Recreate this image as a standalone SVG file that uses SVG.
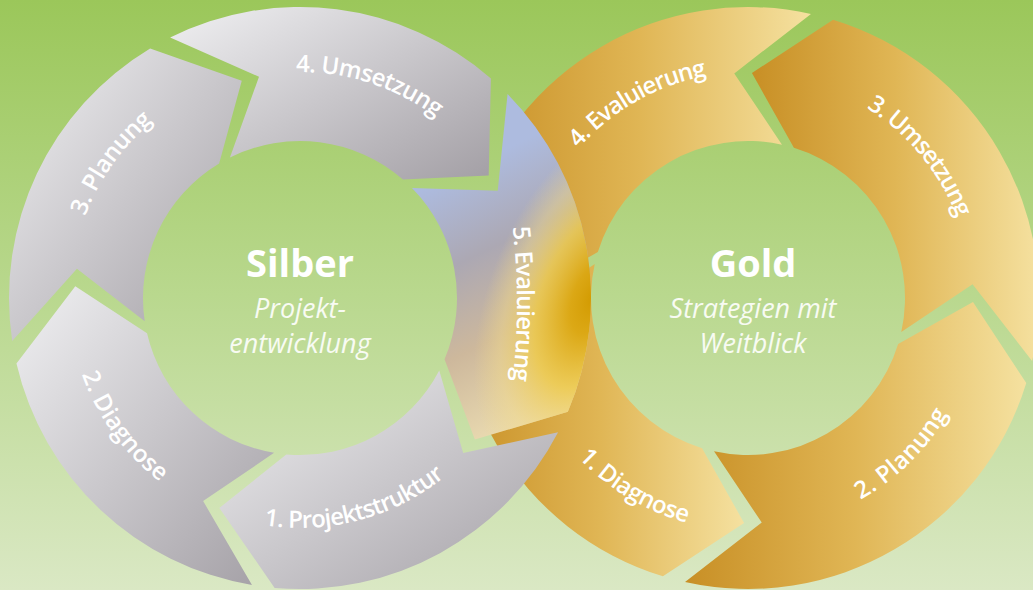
<svg xmlns="http://www.w3.org/2000/svg" width="1033" height="590" viewBox="0 0 1033 590">
<defs>
<linearGradient id="bg" x1="0" y1="0" x2="0" y2="1">
<stop offset="0" stop-color="#9bc75a"/>
<stop offset="0.5" stop-color="#b9d88e"/>
<stop offset="1" stop-color="#dae8c4"/>
</linearGradient>
<linearGradient id="silver" x1="0" y1="0" x2="1" y2="1">
<stop offset="0" stop-color="#f0f0f2"/>
<stop offset="1" stop-color="#a39fa5"/>
</linearGradient>
<linearGradient id="gold" x1="0" y1="0" x2="1" y2="0">
<stop offset="0" stop-color="#c88f25"/>
<stop offset="0.5" stop-color="#e0b655"/>
<stop offset="1" stop-color="#f5e1a0"/>
</linearGradient>
<linearGradient id="s5base" gradientUnits="userSpaceOnUse" x1="420" y1="190" x2="540" y2="440">
<stop offset="0" stop-color="#adbbdf"/>
<stop offset="0.3" stop-color="#aca8b3"/>
<stop offset="0.6" stop-color="#cdb89c"/>
<stop offset="1" stop-color="#f0e2b5"/>
</linearGradient>
<radialGradient id="s5gold" gradientUnits="userSpaceOnUse" cx="0" cy="0" r="190" gradientTransform="translate(594 298) rotate(112) scale(1 0.55)">
<stop offset="0" stop-color="#d29a00" stop-opacity="1"/>
<stop offset="0.2" stop-color="#dca70e" stop-opacity="0.95"/>
<stop offset="0.5" stop-color="#efca45" stop-opacity="0.8"/>
<stop offset="0.78" stop-color="#f2d985" stop-opacity="0.45"/>
<stop offset="1" stop-color="#f2d985" stop-opacity="0"/>
</radialGradient>
<clipPath id="goldclip">
<path clip-rule="evenodd" d="M 0 0 H 1033 V 590 H 0 Z M 470 110 L 506 110 L 506 200 L 470 200 Z"/>
</clipPath>
<path id="p-l1" d="M 111.60 429.92 A 230 230 0 0 0 529.12 318.05"/>
<path id="p-l2" d="M 108.49 168.83 A 231 231 0 0 0 363.67 520.05"/>
<path id="p-l3" d="M 110.45 428.27 A 230 230 0 0 1 361.47 76.37"/>
<path id="p-l4" d="M 121.91 158.86 A 226 226 0 0 1 525.86 290.11"/>
<path id="p-l5" d="M 493.15 122.83 A 700 700 0 0 1 493.15 485.17"/>
<path id="p-g1" d="M 519.28 253.54 A 233 233 0 0 0 894.63 479.08"/>
<path id="p-g2" d="M 648.55 506.50 A 231 231 0 0 0 958.20 202.21"/>
<path id="p-g3" d="M 673.23 86.85 A 224 224 0 0 1 941.01 411.69"/>
<path id="p-g4" d="M 525.10 335.30 A 226 226 0 0 1 894.78 126.15"/>
</defs>
<style>
.lbl { font-family: "Open Sans", "Liberation Sans", sans-serif; font-weight: 600; font-size: 24px; fill: #ffffff; }
.title { font-family: "Open Sans", "Liberation Sans", sans-serif; font-weight: 700; font-size: 38px; fill: #ffffff; text-anchor: middle; }
.sub { font-family: "Open Sans", "Liberation Sans", sans-serif; font-style: italic; font-weight: 400; font-size: 27px; fill: #f8fbf3; text-anchor: middle; }
.sv { fill: url(#silver); }
.gd { fill: url(#gold); }
</style>
<rect x="0" y="0" width="1033" height="590" fill="url(#bg)"/>

<g id="gold-ring" clip-path="url(#goldclip)">
<g id="gold-2-planung">
<path class="gd" d="M 685.02 582.10 L 761.74 522.58 L 714.02 451.28 A 157 157 0 0 0 898.14 343.90 L 972.97 301.93 L 1026.28 383.08 A 291 291 0 0 1 685.02 582.10 Z"/>
<text class="lbl"><textPath href="#p-g2" startOffset="50%" text-anchor="middle" textLength="124" lengthAdjust="spacing">2. Planung</textPath></text>
</g>
<g id="gold-1-diagnose">
<path class="gd" d="M 463.90 235.02 L 523.42 311.74 L 594.72 264.02 A 157 157 0 0 0 702.10 448.14 L 744.07 522.97 L 662.92 576.28 A 291 291 0 0 1 463.90 235.02 Z"/>
<text class="lbl"><textPath href="#p-g1" startOffset="50%" text-anchor="middle" textLength="128" lengthAdjust="spacing">1. Diagnose</textPath></text>
</g>
<g id="gold-4-evaluierung">
<path class="gd" d="M 810.98 13.90 L 734.26 73.42 L 781.98 144.72 A 157 157 0 0 0 597.86 252.10 L 523.03 294.07 L 469.72 212.92 A 291 291 0 0 1 810.98 13.90 Z"/>
<text class="lbl"><textPath href="#p-g4" startOffset="50%" text-anchor="middle" textLength="150" lengthAdjust="spacing">4. Evaluierung</textPath></text>
</g>
<g id="gold-3-umsetzung">
<path class="gd" d="M 1032.10 360.98 L 972.58 284.26 L 901.28 331.98 A 157 157 0 0 0 793.90 147.86 L 751.93 73.03 L 833.08 19.72 A 291 291 0 0 1 1032.10 360.98 Z"/>
<text class="lbl"><textPath href="#p-g3" startOffset="50%" text-anchor="middle" textLength="145" lengthAdjust="spacing">3. Umsetzung</textPath></text>
</g>
</g>

<g id="silver-ring">
<g id="silver-1-projektstruktur">
<path class="sv" d="M 558.12 432.37 L 463.21 452.88 L 439.26 370.49 A 157 157 0 0 1 286.32 454.40 L 219.37 508.06 L 274.64 587.89 A 291 291 0 0 0 558.12 432.37 Z"/>
<text class="lbl"><textPath href="#p-l1" startOffset="50%" text-anchor="middle" textLength="193" lengthAdjust="spacing">1. Projektstruktur</textPath></text>
</g>
<g id="silver-2-diagnose">
<path class="sv" d="M 251.97 585.01 L 203.14 501.08 L 274.09 452.85 A 157 157 0 0 1 147.02 333.32 L 75.31 286.22 L 16.46 363.46 A 291 291 0 0 0 251.97 585.01 Z"/>
<text class="lbl"><textPath href="#p-l2" startOffset="50%" text-anchor="middle" textLength="135" lengthAdjust="spacing">2. Diagnose</textPath></text>
</g>
<g id="silver-3-planung">
<path class="sv" d="M 12.20 341.01 L 76.93 268.63 L 144.72 321.21 A 157 157 0 0 1 219.14 163.42 L 241.77 80.67 L 150.12 48.56 A 291 291 0 0 0 12.20 341.01 Z"/>
<text class="lbl"><textPath href="#p-l3" startOffset="50%" text-anchor="middle" textLength="118" lengthAdjust="spacing">3. Planung</textPath></text>
</g>
<g id="silver-4-umsetzung">
<path class="sv" d="M 170.16 37.58 L 259.00 76.77 L 229.95 157.50 A 157 157 0 0 1 403.00 179.51 L 488.70 175.46 L 490.91 78.38 A 291 291 0 0 0 170.16 37.58 Z"/>
<text class="lbl"><textPath href="#p-l4" startOffset="50%" text-anchor="middle" textLength="150" lengthAdjust="spacing">4. Umsetzung</textPath></text>
</g>
<g id="silver-5-evaluierung">
<path fill="url(#s5base)" d="M 507.56 94.04 L 497.73 190.64 L 411.98 187.96 A 157 157 0 0 1 444.52 359.34 L 474.86 439.60 L 567.87 411.70 A 291 291 0 0 0 507.56 94.04 Z"/>
<path fill="url(#s5gold)" d="M 507.56 94.04 L 497.73 190.64 L 411.98 187.96 A 157 157 0 0 1 444.52 359.34 L 474.86 439.60 L 567.87 411.70 A 291 291 0 0 0 507.56 94.04 Z"/>
<text class="lbl"><textPath href="#p-l5" startOffset="50%" text-anchor="middle" textLength="154" lengthAdjust="spacing">5. Evaluierung</textPath></text>
</g>
</g>

<g id="connectors"></g>

<g id="center-silber">
<text class="title" x="300" y="277">Silber</text>
<text class="sub" x="300" y="318">Projekt-</text>
<text class="sub" x="300" y="353">entwicklung</text>
</g>
<g id="center-gold">
<text class="title" x="753" y="277">Gold</text>
<text class="sub" x="753" y="318">Strategien mit</text>
<text class="sub" x="753" y="353">Weitblick</text>
</g>
</svg>
